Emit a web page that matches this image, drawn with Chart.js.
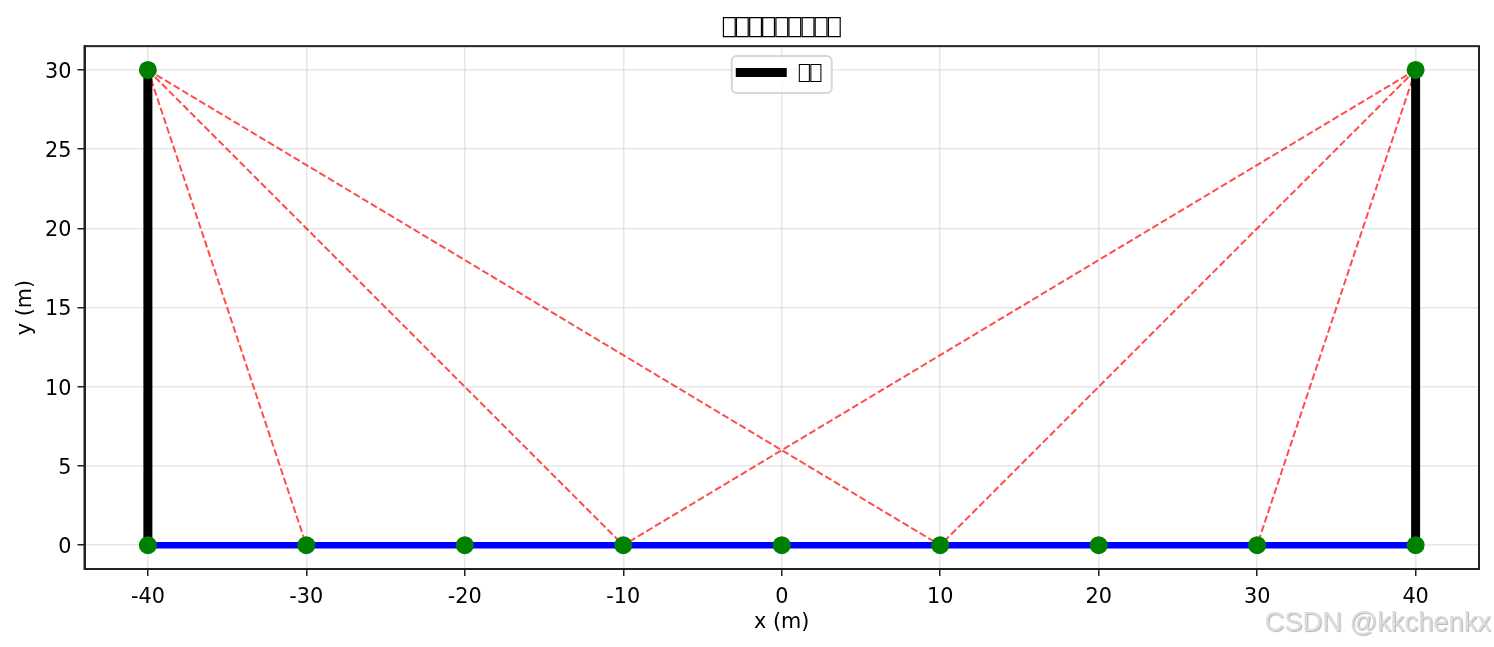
<!DOCTYPE html>
<html>
<head>
<meta charset="utf-8">
<script src="https://cdn.jsdelivr.net/npm/chart.js@4"></script>
<style>
  body { margin: 0; background: #fff; }
  #wrap { position: relative; width: 1494px; height: 647px; overflow: hidden; }
  #mark {
    position: absolute; right: 3px; top: 606px;
    font: 27.3px "Liberation Sans", sans-serif; color: #dcdcdc;
    text-shadow: 1px 1px 1px #b4b4b4;
  }
</style>
</head>
<body>
<div id="wrap">
  <canvas id="myChart" width="1494" height="647"></canvas>
  <div id="mark">CSDN @kkchenkx</div>
</div>
<script>
const nodeX = [-40, -30, -20, -10, 0, 10, 20, 30, 40, -40, 40];
const nodeY = [0, 0, 0, 0, 0, 0, 0, 0, 0, 30, 30];
const deckX = [-40, 40];
const deckY = [0, 0];
const leftTowerX = [-40, -40];
const rightTowerX = [40, 40];
const towerY = [0, 30];
const cableTopX = [-40, -40, -40, 40, 40, 40];
const cableTopY = [30, 30, 30, 30, 30, 30];
const cableBaseX = [-30, -10, 10, -10, 10, 30];
const cableBaseY = [0, 0, 0, 0, 0, 0];
const xTicks = [-40, -30, -20, -10, 0, 10, 20, 30, 40];
const yTicks = [0, 5, 10, 15, 20, 25, 30];

// the reference lost its CJK font, so the labels are empty boxes there too
const titleText = '\u2395'.repeat(9);
const legendText = '\u2395'.repeat(2);

const toPoints = (xs, ys) => xs.map((x, i) => ({ x: x, y: ys[i] }));

const cables = cableTopX.map((x, i) => ({
  data: toPoints([x, cableBaseX[i]], [cableTopY[i], cableBaseY[i]]),
  borderColor: 'rgba(255,0,0,0.7)',
  borderWidth: 2,
  borderDash: [7, 3],
  pointRadius: 0,
  showLine: true,
  order: 4
}));

const tower = (xs) => ({
  data: toPoints(xs, towerY),
  borderColor: '#000',
  borderWidth: 9,
  pointRadius: 0,
  showLine: true,
  order: 2
});

const frameAndLegend = {
  id: 'frameAndLegend',
  beforeDraw(chart) {
    // matplotlib centres digits on the tick, canvas 'middle' sits a bit high
    chart.scales.y.getLabelItems().forEach(item => { item.textOffset += 2.5; });
  },
  afterDatasetsDraw(chart) {
    const a = chart.chartArea;
    const c = chart.ctx;
    c.save();
    c.lineWidth = 2;
    c.strokeStyle = '#222';
    c.strokeRect(a.left, a.top, a.width, a.height);

    const cx = a.left + a.width / 2;
    c.beginPath();
    c.roundRect(cx - 50, 56, 100, 37, 5);
    c.fillStyle = 'rgba(255,255,255,0.8)';
    c.fill();
    c.strokeStyle = '#d6d6d6';
    c.stroke();
    c.fillStyle = '#000';
    c.fillRect(cx - 46, 68, 51, 9);
    c.font = '19px "DejaVu Sans Mono"';
    c.textAlign = 'left';
    c.textBaseline = 'middle';
    c.fillText(legendText, cx + 17, 75);
    c.restore();
  }
};

const axisFont = { family: '"DejaVu Sans"', size: 20.8 };

new Chart(document.getElementById('myChart'), {
  type: 'scatter',
  plugins: [frameAndLegend],
  data: {
    datasets: [
      ...cables,
      { data: toPoints(deckX, deckY), borderColor: '#0000ff', borderWidth: 6.5, pointRadius: 0, showLine: true, order: 3 },
      tower(leftTowerX),
      tower(rightTowerX),
      { data: toPoints(nodeX, nodeY), backgroundColor: '#008000', borderColor: '#008000', pointRadius: 9, pointBorderWidth: 0, showLine: false, order: 1 }
    ]
  },
  options: {
    responsive: false,
    animation: false,
    layout: { padding: { right: 15 } },
    plugins: {
      tooltip: { enabled: false },
      legend: { display: false },
      title: {
        display: true,
        text: titleText,
        color: '#000',
        fullSize: false,
        font: { family: '"DejaVu Sans Mono"', size: 21.8, weight: 'normal' },
        padding: { top: 16, bottom: 4 }
      }
    },
    scales: {
      x: {
        type: 'linear',
        min: -44,
        max: 44,
        afterBuildTicks: (axis) => { axis.ticks = xTicks.map(v => ({ value: v })); },
        afterFit: (axis) => { axis.height = 78; },
        ticks: { color: '#000', font: axisFont, padding: 9, maxRotation: 0, autoSkip: false },
        grid: { color: 'rgba(176,176,176,0.3)', lineWidth: 1.5, tickColor: '#222', tickLength: 7 },
        border: { color: '#222', width: 2 },
        title: { display: true, text: 'x (m)', color: '#000', font: axisFont, padding: { top: 5, bottom: 12 } }
      },
      y: {
        min: -1.5,
        max: 31.5,
        afterBuildTicks: (axis) => { axis.ticks = yTicks.map(v => ({ value: v })); },
        afterFit: (axis) => { axis.width = 84.5; },
        ticks: { color: '#000', font: axisFont, padding: 6, autoSkip: false },
        grid: { color: 'rgba(176,176,176,0.3)', lineWidth: 1.5, tickColor: '#222', tickLength: 7 },
        border: { color: '#222', width: 2 },
        title: { display: true, text: 'y (m)', color: '#000', font: axisFont, padding: { top: 13, bottom: 0 } }
      }
    }
  }
});
</script>
</body>
</html>
